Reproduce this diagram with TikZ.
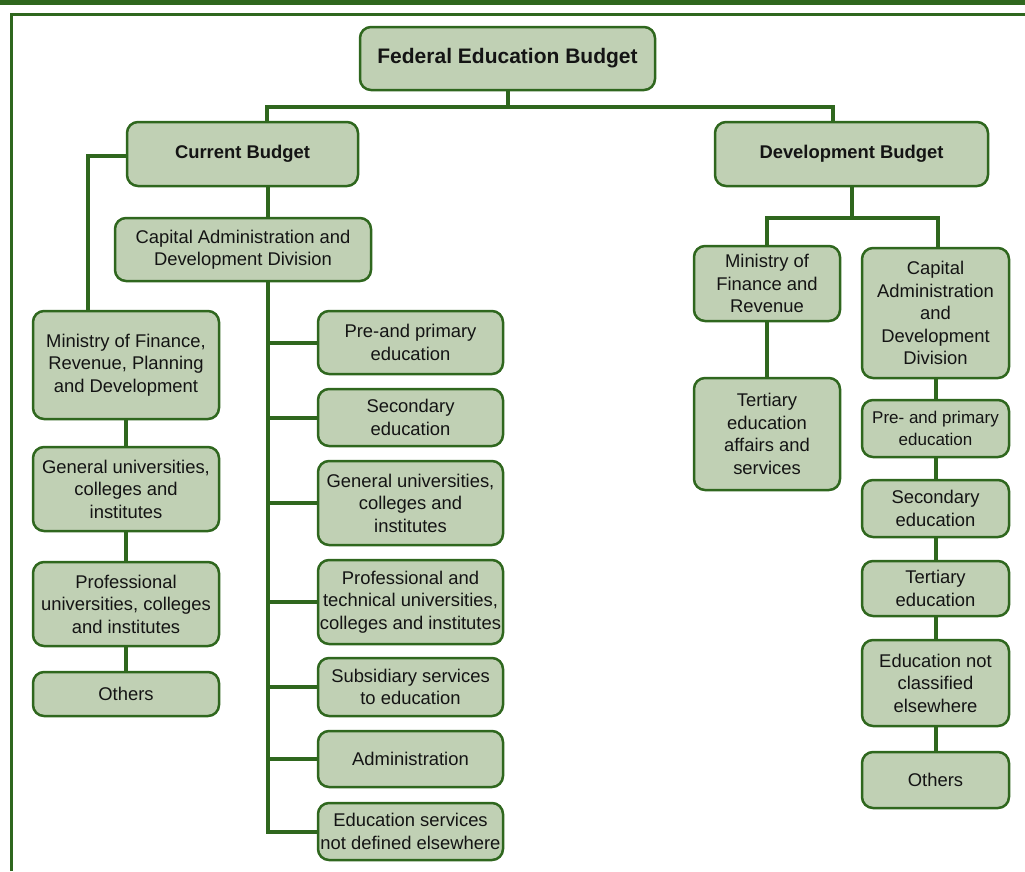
\documentclass[tikz,border=0pt]{standalone}
\usepackage{fontspec}
\setmainfont{Liberation Sans}
\definecolor{dkgreen}{RGB}{47,103,30}
\definecolor{lgreen}{RGB}{192,208,180}
\definecolor{txt}{RGB}{20,20,20}
\tikzset{
  box/.style 2 args={draw=dkgreen, line width=2.5pt, fill=lgreen, rounded corners=11pt,
    minimum width=#1pt, minimum height=#2pt, inner sep=0pt, align=center, text=txt,
    font=\fontsize{18.4}{22.5}\selectfont},
  conn/.style={draw=dkgreen, line width=4pt},
}
\begin{document}
\begin{tikzpicture}[x=1pt,y=-1pt]
\useasboundingbox (0,0) rectangle (1025,871);
% frame
\fill[dkgreen] (0,0) rectangle (1025,5);
\draw[dkgreen, line width=3pt] (11.5,871) -- (11.5,14) -- (1025,14);

% connectors first (behind boxes)
\coordinate (h1) at (267,107);
\coordinate (h2) at (833,107);
\coordinate (sp) at (268,281);
\coordinate (j1) at (88,156);
\coordinate (h3) at (767,218);
\coordinate (h4) at (938,218);

% nodes
\node[box={295}{63}, font=\fontsize{21}{25}\selectfont\bfseries] (fed) at (507.5,58.5) {Federal Education Budget};
\node[box={231}{64}, font=\fontsize{18.4}{22.5}\selectfont\bfseries] (cur) at (242.5,154) {Current Budget};
\node[box={273}{64}, font=\fontsize{18.4}{22.5}\selectfont\bfseries] (dev) at (851.5,154) {Development Budget};
\node[box={256}{63}] (cap) at (243,249.5) {Capital Administration and\\Development Division};

\node[box={186}{108}] (lm) at (126,365) {Ministry of Finance,\\Revenue, Planning\\and Development};
\node[box={186}{84}] (lg) at (126,489) {General universities,\\colleges and\\institutes};
\node[box={186}{84}] (lp) at (126,604) {Professional\\universities, colleges\\and institutes};
\node[box={186}{44}] (lo) at (126,694) {Others};

\node[box={185}{63}] (i1) at (410.5,342.5) {Pre-and primary\\education};
\node[box={185}{57}] (i2) at (410.5,417.5) {Secondary\\education};
\node[box={185}{84}] (i3) at (410.5,503) {General universities,\\colleges and\\institutes};
\node[box={185}{84}] (i4) at (410.5,602) {Professional and\\technical universities,\\colleges and institutes};
\node[box={185}{58}] (i5) at (410.5,687) {Subsidiary services\\to education};
\node[box={185}{56}] (i6) at (410.5,759) {Administration};
\node[box={185}{57}] (i7) at (410.5,831.5) {Education services\\not defined elsewhere};

\node[box={146}{75}] (mfr) at (767,283.5) {Ministry of\\Finance and\\Revenue};
\node[box={146}{112}] (tea) at (767,434) {Tertiary\\education\\affairs and\\services};
\node[box={147}{130}] (cadr) at (935.5,313) {Capital\\Administration\\and\\Development\\Division};
\node[box={147}{57}, font=\fontsize{17}{22.5}\selectfont] (r1) at (935.5,428.5) {Pre- and primary\\education};
\node[box={147}{57}] (r2) at (935.5,508.5) {Secondary\\education};
\node[box={147}{55}] (r3) at (935.5,588.5) {Tertiary\\education};
\node[box={147}{86}] (r4) at (935.5,683) {Education not\\classified\\elsewhere};
\node[box={147}{56}] (r5) at (935.5,780) {Others};

% connectors (on background layer effect: drawn before? draw then re-draw boxes not needed since lines end at borders)
\begin{scope}[on background layer/.style={}]
\draw[conn] (fed.south) -- (fed.south |- h1);
\draw[conn] (cur.north -| h1) -- (h1) -- (h2) -- (dev.north -| h2);
\draw[conn] (cur.west |- j1) -- (j1) -- (j1 |- lm.north);
\draw[conn] (cur.south -| sp) -- (cap.north -| sp);
\draw[conn] (cap.south -| sp) -- (sp |- i7.west) -- (i7.west);
\foreach \n in {i1,i2,i3,i4,i5,i6} \draw[conn] (sp |- \n.west) -- (\n.west);
\draw[conn] (lm.south) -- (lg.north);
\draw[conn] (lg.south) -- (lp.north);
\draw[conn] (lp.south) -- (lo.north);
\draw[conn] (dev.south) -- (dev.south |- h3);
\draw[conn] (mfr.north -| h3) -- (h3) -- (h4) -- (cadr.north -| h4);
\draw[conn] (mfr.south) -- (tea.north);
\draw[conn] (cadr.south) -- (r1.north);
\draw[conn] (r1.south) -- (r2.north);
\draw[conn] (r2.south) -- (r3.north);
\draw[conn] (r3.south) -- (r4.north);
\draw[conn] (r4.south) -- (r5.north);
\end{scope}
\end{tikzpicture}
\end{document}
